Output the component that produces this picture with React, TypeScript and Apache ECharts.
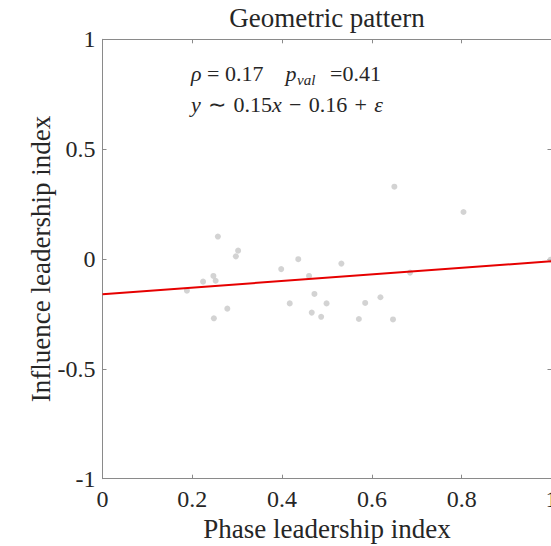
import React, { useEffect, useRef } from "react";
import * as echarts from "echarts";

const titleText = "Geometric pattern";
const xAxisName = "Phase leadership index";
const yAxisName = "Influence leadership index";

const phaseIndex = [
  0.188, 0.224, 0.247, 0.252, 0.257, 0.302, 0.297, 0.278, 0.248, 0.398, 0.436,
  0.46, 0.472, 0.417, 0.466, 0.487, 0.499, 0.532, 0.571, 0.585, 0.619, 0.647,
  0.65, 0.685, 0.804, 0.998,
];
const influenceIndex = [
  -0.144, -0.103, -0.077, -0.099, 0.102, 0.038, 0.012, -0.226, -0.27, -0.046,
  -0.001, -0.077, -0.159, -0.202, -0.244, -0.263, -0.202, -0.021, -0.273, -0.2,
  -0.174, -0.275, 0.329, -0.062, 0.214, -0.003,
];

const fitSlope = 0.15;
const fitIntercept = -0.16;
const fitRange = [0, 1];

const xTickRange = { min: 0, max: 1, interval: 0.2 };
const yTickRange = { min: -1, max: 1, interval: 0.5 };

const SERIF = "Liberation Serif";
const TEXT = "#262626";
const AXIS = "#8a8a8a";
const SP = "\u2004";

export default function App() {
  const ref = useRef<HTMLDivElement>(null);
  useEffect(() => {
    if (!ref.current) return;
    const chart = echarts.init(ref.current, undefined, { renderer: "svg" });
    const axisCommon = {
      axisLine: { show: true, onZero: false, lineStyle: { color: AXIS, width: 1 } },
      axisTick: { show: true, inside: true, length: 4, lineStyle: { color: AXIS } },
      splitLine: { show: false },
    };
    const fmt = (v: number) => String(Math.round(v * 10) / 10);
    chart.setOption({
      animation: false,
      textStyle: { fontFamily: SERIF },
      grid: {
        left: 102.5,
        top: 39.3,
        width: 449,
        height: 439.4,
        containLabel: false,
        outerBoundsMode: "none",
      },
      xAxis: [
        {
          type: "value",
          position: "bottom",
          ...xTickRange,
          ...axisCommon,
          axisLabel: { fontFamily: SERIF, fontSize: 24, color: TEXT, margin: 8, formatter: fmt },
          name: xAxisName,
          nameLocation: "middle",
          nameGap: 37,
          nameMoveOverlap: false,
          nameTextStyle: { fontFamily: SERIF, fontSize: 27, color: TEXT },
        },
        {
          type: "value",
          position: "top",
          ...xTickRange,
          ...axisCommon,
          axisLabel: { show: false },
        },
      ],
      yAxis: [
        {
          type: "value",
          position: "left",
          ...yTickRange,
          ...axisCommon,
          axisLabel: { fontFamily: SERIF, fontSize: 24, color: TEXT, margin: 7, formatter: fmt },
          name: yAxisName,
          nameLocation: "middle",
          nameGap: 48,
          nameMoveOverlap: false,
          nameRotate: 90,
          nameTextStyle: { fontFamily: SERIF, fontSize: 27, color: TEXT },
        },
        {
          type: "value",
          position: "right",
          ...yTickRange,
          ...axisCommon,
          axisLabel: { show: false },
        },
      ],
      series: [
        {
          type: "scatter",
          data: phaseIndex.map((x, i) => [x, influenceIndex[i]]),
          symbolSize: 6,
          itemStyle: { color: "#c8c8c8" },
          clip: false,
        },
        {
          type: "line",
          data: fitRange.map((x) => [x, fitSlope * x + fitIntercept]),
          showSymbol: false,
          lineStyle: { color: "#e60000", width: 2 },
          silent: true,
        },
      ],
      graphic: [
        {
          type: "text",
          x: 327,
          y: 18,
          style: {
            text: titleText,
            fontFamily: SERIF,
            fontSize: 27,
            fill: TEXT,
            align: "center",
            verticalAlign: "middle",
          },
        },
        {
          type: "text",
          x: 191,
          y: 73,
          style: {
            text: "{i|ρ} = 0.17",
            fontFamily: SERIF,
            fontSize: 22,
            fill: TEXT,
            verticalAlign: "middle",
            rich: {
              i: { fontFamily: SERIF, fontSize: 22, fontStyle: "italic", fill: TEXT },
            },
          },
        },
        {
          type: "text",
          x: 285.5,
          y: 73,
          style: {
            text: "p",
            fontFamily: SERIF,
            fontSize: 22,
            fontStyle: "italic",
            fill: TEXT,
            verticalAlign: "middle",
          },
        },
        {
          type: "text",
          x: 297,
          y: 80,
          style: {
            text: "val",
            fontFamily: SERIF,
            fontSize: 15,
            fontStyle: "italic",
            fill: TEXT,
            verticalAlign: "middle",
          },
        },
        {
          type: "text",
          x: 330,
          y: 73,
          style: {
            text: "=0.41",
            fontFamily: SERIF,
            fontSize: 22,
            fill: TEXT,
            verticalAlign: "middle",
          },
        },
        {
          type: "text",
          x: 191,
          y: 104,
          style: {
            text: `{i|y}${SP}∼${SP}0.15{i|x}${SP}−${SP}0.16${SP}+${SP}{i|ε}`,
            fontFamily: SERIF,
            fontSize: 22,
            fill: TEXT,
            verticalAlign: "middle",
            rich: {
              i: { fontFamily: SERIF, fontSize: 22, fontStyle: "italic", fill: TEXT },
            },
          },
        },
      ],
    });
    return () => chart.dispose();
  }, []);
  return (
    <div
      ref={ref}
      style={{ position: "fixed", left: 0, top: 0, width: 551, height: 546, background: "#fff" }}
    />
  );
}
